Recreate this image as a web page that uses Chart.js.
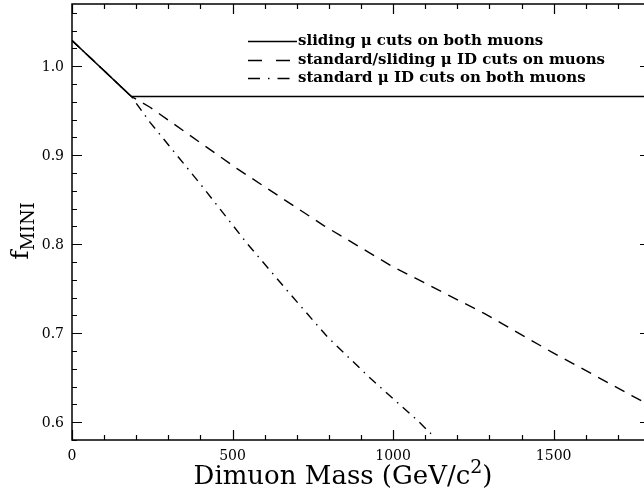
<!DOCTYPE html>
<html>
<head>
<meta charset="utf-8">
<script src="https://cdn.jsdelivr.net/npm/chart.js@4/dist/chart.umd.min.js"></script>
<style>
  html, body { margin: 0; padding: 0; background: #fff; overflow: hidden; }
  #wrap { position: absolute; left: 0; top: 0; width: 660px; height: 489px; }
</style>
</head>
<body>
<div id="wrap"><canvas id="c" width="660" height="489"></canvas></div>
<script>
// Dimuon mass (GeV/c^2) and f_MINI for each muon-cut selection
const slidingMass = [0, 185, 1800];
const slidingF    = [1.029, 0.966, 0.966];

const mixedMass = [0, 185, 243, 514, 784, 993, 1285, 1493, 1743, 1800];
const mixedF    = [1.029, 0.966, 0.954, 0.885, 0.821, 0.776, 0.722, 0.679, 0.630, 0.619];

const standardMass = [0, 185, 243, 399, 545, 670, 795, 930, 1076, 1118];
const standardF    = [1.029, 0.966, 0.937, 0.868, 0.801, 0.748, 0.696, 0.649, 0.602, 0.587];

const seriesLabels = [
  'sliding \u03bc cuts on both muons',
  'standard/sliding \u03bc ID cuts on muons',
  'standard \u03bc ID cuts on both muons'
];

const xMajorTicks = [0, 500, 1000, 1500];
const xTickLabels = ['0', '500', '1000', '1500'];
const yMajorTicks = [0.6, 0.7, 0.8, 0.9, 1.0];
const yTickLabels = ['0.6', '0.7', '0.8', '0.9', '1.0'];

const X_MIN = 0, X_MAX = 1800, X_MINOR = 100;
const Y_MIN = 0.58, Y_MAX = 1.07, Y_MINOR = 0.02;

const FONT = '"DejaVu Serif", "Liberation Serif", serif';
const INK = '#000';

function pts(xs, ys) { return xs.map((x, i) => ({ x: x, y: ys[i] })); }

// Frame, inward tick marks on all four sides, tick labels, titles and key
const framePlugin = {
  id: 'frame',
  afterDraw(chart) {
    const ctx = chart.ctx;
    const a = chart.chartArea;
    const xs = chart.scales.x, ys = chart.scales.y;
    ctx.save();
    ctx.strokeStyle = INK;
    ctx.fillStyle = INK;
    ctx.lineWidth = 1.5;
    ctx.setLineDash([]);
    ctx.strokeRect(a.left, a.top, a.right - a.left, a.bottom - a.top);

    ctx.lineWidth = 1.2;
    const isMajorX = v => xMajorTicks.some(m => Math.abs(m - v) < 1e-6);
    const isMajorY = v => yMajorTicks.some(m => Math.abs(m - v) < 1e-6);
    ctx.beginPath();
    for (let v = X_MIN; v <= X_MAX + 1e-6; v += X_MINOR) {
      const px = Math.round(xs.getPixelForValue(v)) + 0.5;
      const len = isMajorX(v) ? 10 : 5;
      ctx.moveTo(px, a.bottom); ctx.lineTo(px, a.bottom - len);
      ctx.moveTo(px, a.top); ctx.lineTo(px, a.top + len);
    }
    const nY = Math.round((Y_MAX - Y_MIN) / Y_MINOR);
    for (let i = 0; i <= nY; i++) {
      const v = +(Y_MIN + i * Y_MINOR).toFixed(4);
      const py = Math.round(ys.getPixelForValue(v)) + 0.5;
      const len = isMajorY(v) ? 10 : 5;
      ctx.moveTo(a.left, py); ctx.lineTo(a.left + len, py);
      ctx.moveTo(a.right, py); ctx.lineTo(a.right - len, py);
    }
    ctx.stroke();

    // tick labels
    ctx.font = '14px ' + FONT;
    ctx.textAlign = 'center';
    ctx.textBaseline = 'middle';
    xMajorTicks.forEach((v, i) => {
      ctx.fillText(xTickLabels[i], xs.getPixelForValue(v), a.bottom + 16);
    });
    ctx.textAlign = 'right';
    yMajorTicks.forEach((v, i) => {
      ctx.fillText(yTickLabels[i], a.left - 8, ys.getPixelForValue(v) + 1);
    });

    // x title with superscript
    ctx.textBaseline = 'alphabetic';
    ctx.textAlign = 'left';
    const mainFont = '26px ' + FONT;
    const supFont = '19px ' + FONT;
    const t1 = 'Dimuon Mass (GeV/c', t2 = '2', t3 = ')';
    ctx.font = mainFont; const w1 = ctx.measureText(t1).width, w3 = ctx.measureText(t3).width;
    ctx.font = supFont; const w2 = ctx.measureText(t2).width;
    let x0 = 343 - (w1 + w2 + w3) / 2;
    const base = 484;
    ctx.font = mainFont; ctx.fillText(t1, x0, base);
    ctx.font = supFont; ctx.fillText(t2, x0 + w1, base - 11);
    ctx.font = mainFont; ctx.fillText(t3, x0 + w1 + w2, base);

    // y title: f with subscript MINI, rotated
    ctx.save();
    ctx.translate(28, 231);
    ctx.rotate(-Math.PI / 2);
    const fFont = '25px ' + FONT, subFont = '18px ' + FONT;
    ctx.font = fFont; const wf = ctx.measureText('f').width;
    ctx.font = subFont; const ws = ctx.measureText('MINI').width;
    const sx = -(wf + ws) / 2;
    ctx.font = fFont; ctx.fillText('f', sx, 0);
    ctx.font = subFont; ctx.fillText('MINI', sx + wf, 6);
    ctx.restore();

    // key
    ctx.font = 'bold 15px ' + FONT;
    ctx.textBaseline = 'middle';
    ctx.textAlign = 'left';
    const keyDash = [[], [14, 14], [12, 8, 1.5, 8]];
    const rowY = [41, 60, 78];
    chart.data.datasets.forEach((ds, i) => {
      ctx.lineWidth = 1.5;
      ctx.setLineDash(keyDash[i]);
      ctx.beginPath();
      ctx.moveTo(248, rowY[i] + 0.5);
      ctx.lineTo(i === 0 ? 297 : 292, rowY[i] + 0.5);
      ctx.stroke();
      ctx.setLineDash([]);
      ctx.fillText(ds.label, 298, rowY[i]);
    });
    ctx.restore();
  }
};

new Chart(document.getElementById('c'), {
  type: 'scatter',
  data: {
    datasets: [
      { label: seriesLabels[0], data: pts(slidingMass, slidingF),
        borderColor: INK, borderWidth: 1.6, borderDash: [] },
      { label: seriesLabels[1], data: pts(mixedMass, mixedF),
        borderColor: INK, borderWidth: 1.4, borderDash: [11, 8] },
      { label: seriesLabels[2], data: pts(standardMass, standardF),
        borderColor: INK, borderWidth: 1.4, borderDash: [9, 6, 1.5, 6] }
    ].map(d => Object.assign(d, { showLine: true, pointRadius: 0, tension: 0, fill: false }))
  },
  options: {
    responsive: false,
    devicePixelRatio: 1,
    animation: false,
    layout: { padding: { left: 72, top: 4, right: 10, bottom: 49 } },
    scales: {
      x: { type: 'linear', min: X_MIN, max: X_MAX, display: false },
      y: { type: 'linear', min: Y_MIN, max: Y_MAX, display: false }
    },
    plugins: { legend: { display: false }, tooltip: { enabled: false } }
  },
  plugins: [framePlugin]
});
</script>
</body>
</html>
